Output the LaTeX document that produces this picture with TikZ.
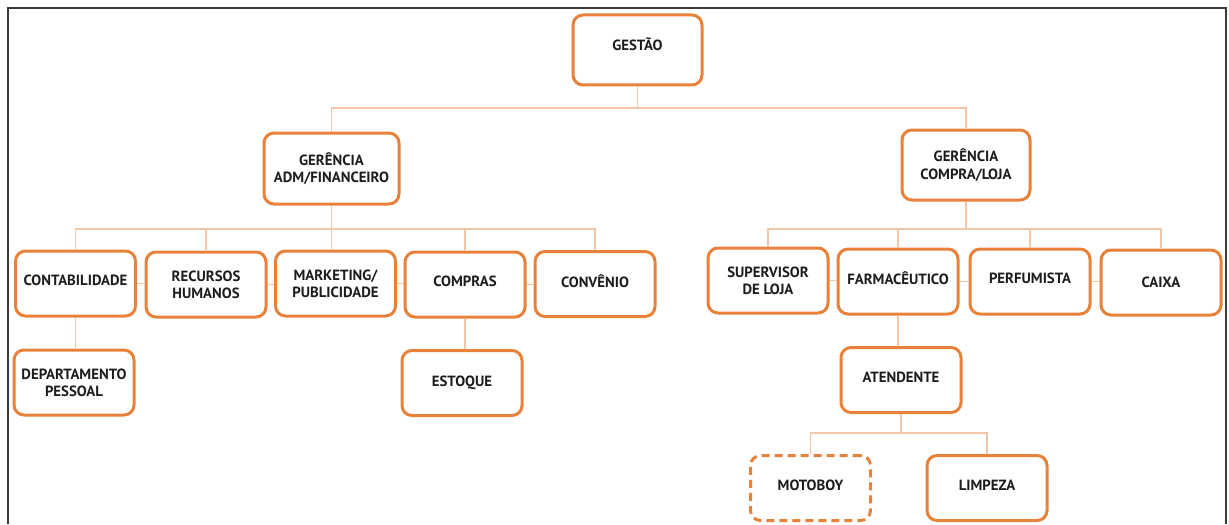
\documentclass[tikz,border=0pt]{standalone}
\usepackage{fontspec}
\newfontfamily\orgfont{PT Sans}
\usepackage{tikz}
\usetikzlibrary{positioning}

\definecolor{laranja}{HTML}{E8823A}
\definecolor{laranjaclaro}{HTML}{F3C7A6}
\definecolor{moldura}{HTML}{3A3A3A}
\definecolor{texto}{HTML}{1C1C1C}

\tikzset{
    setor/.style={draw=laranja, line width=1.5pt, rounded corners=5pt,
        minimum width=60pt, minimum height=32.5pt, align=center,
        text=texto, font=\orgfont\bfseries\fontsize{7.4}{8.6}\selectfont},
    umalinha/.style={text depth=3pt},
    setorext/.style={setor, umalinha, dashed, dash pattern=on 4pt off 2.5pt},
    linha/.style={draw=laranjaclaro, line width=0.6pt}
}

\begin{document}
\begin{tikzpicture}[x=0.5pt, y=-0.5pt]
    \useasboundingbox (0,0) rectangle (1229,524);
    \draw[moldura, line width=0.75pt] (8,524) -- (8,8) -- (1226,8) -- (1226,524);

    \node[setor, text depth=6pt, minimum width=64.5pt, minimum height=35pt] (gestao) at (637.5,50) {GEST\~AO};
    \node[setor, minimum width=67.5pt, minimum height=35.5pt] (admfin) at (331.5,168.5) {GER\^ENCIA\\ADM/FINANCEIRO};
    \node[setor, minimum width=64pt, minimum height=35pt] (comploja) at (966,165) {GER\^ENCIA\\COMPRA/LOJA};

    \node[setor, umalinha] (conta) at (75.5,283.5) {CONTABILIDADE};
    \node[setor] (rh) at (206,284.5) {RECURSOS\\HUMANOS};
    \node[setor] (mkt) at (335.5,283.5) {MARKETING/\\PUBLICIDADE};
    \node[setor, umalinha] (compras) at (465,284.5) {COMPRAS};
    \node[setor, umalinha] (convenio) at (595,284) {CONV\^ENIO};
    \node[setor] (dp) at (74,382.5) {DEPARTAMENTO\\PESSOAL};
    \node[setor] (estoque) at (462,383) {ESTOQUE};

    \node[setor] (superv) at (768,280.5) {SUPERVISOR\\DE LOJA};
    \node[setor, umalinha] (farm) at (898,281.5) {FARMAC\^EUTICO};
    \node[setor, umalinha] (perf) at (1030,281.5) {PERFUMISTA};
    \node[setor] (caixa) at (1161,282.5) {CAIXA};
    \node[setor, umalinha] (atend) at (901,380) {ATENDENTE};
    \node[setorext] (motoboy) at (810.5,488) {MOTOBOY};
    \node[setor, umalinha] (limpeza) at (987,488) {LIMPEZA};

    \coordinate (bus0) at (0,108);
    \coordinate (bus1) at (0,229);
    \coordinate (bus2) at (0,433);

    \draw[linha] (gestao.south) -- (gestao.south |- bus0) -| (admfin.north);
    \draw[linha] (gestao.south |- bus0) -| (comploja.north);

    \draw[linha] (admfin.south) -- (admfin.south |- mkt.north);
    \foreach \s in {conta, rh, compras, convenio}
        \draw[linha] (admfin.south |- bus1) -| (\s.north);

    \draw[linha] (comploja.south) -- (comploja.south |- bus1);
    \foreach \s in {superv, farm, perf, caixa}
        \draw[linha] (comploja.south |- bus1) -| (\s.north);

    \foreach \a/\b in {conta/rh, rh/mkt, mkt/compras, compras/convenio, superv/farm, farm/perf, perf/caixa}
        \draw[linha] (\a.east) -- (\a.east -| \b.west);

    \draw[linha] (conta.south) -- (dp.north -| conta.south);
    \draw[linha] (compras.south) -- (estoque.north -| compras.south);
    \draw[linha] (farm.south) -- (atend.north -| farm.south);

    \draw[linha] (atend.south) -- (atend.south |- bus2);
    \foreach \s in {motoboy, limpeza}
        \draw[linha] (atend.south |- bus2) -| (\s.north);
\end{tikzpicture}
\end{document}
